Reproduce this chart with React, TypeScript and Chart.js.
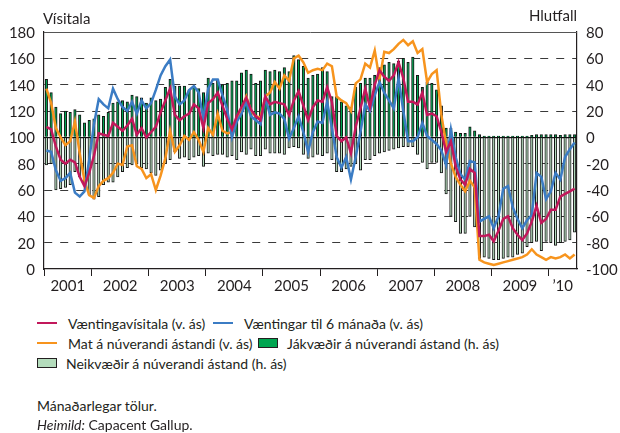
import React, { useEffect, useRef } from 'react';
import { Chart, registerables } from 'chart.js';

Chart.register(...registerables);

// Monthly categories: March 2001 – June 2010
const START_YEAR = 2001;
const START_MONTH = 3;
const MONTH_COUNT = 112;
const months: string[] = [];
for (let i = 0; i < MONTH_COUNT; i++) {
  const m = START_MONTH - 1 + i;
  const y = START_YEAR + Math.floor(m / 12);
  months.push(`${y}-${String((m % 12) + 1).padStart(2, '0')}`);
}

const yearLabels = ['2001', '2002', '2003', '2004', '2005', '2006', '2007', '2008', '2009', '\u201910'];
const yearLabelIndex = [5, 16, 28, 40, 52, 64, 76, 88, 100, 109];
const yearStartIndex = [0, 10, 22, 34, 46, 58, 70, 82, 94, 106];

// Væntingavísitala (left axis)
const vaentingavisitala = [
  108, 106, 93, 83, 80, 83, 81, 70, 63, 73,
  86, 103, 102, 101, 111, 108, 105, 109, 114, 102, 107, 100,
  104, 108, 119, 128, 137, 117, 113, 116, 118, 125, 122, 107,
  126, 129, 134, 124, 114, 106, 116, 123, 130, 121, 116, 113,
  131, 125, 127, 126, 125, 117, 128, 135, 124, 113, 123, 128,
  127, 138, 127, 101, 97, 100, 88, 108, 122, 137, 123, 140,
  151, 146, 143, 147, 157, 145, 127, 127, 125, 134, 117, 118,
  116, 104, 89, 97, 78, 68, 64, 76, 73, 25, 25, 26,
  21, 29, 38, 40, 31, 26, 22, 27, 36, 48, 35, 38,
  45, 45, 55, 57, 59, 61,
];

// Væntingar til 6 mánaða (left axis)
const vaentingar6 = [
  90, 89, 75, 67, 69, 73, 58, 55, 59, 83,
  110, 129, 125, 122, 137, 129, 123, 120, 127, 118, 128, 122,
  126, 136, 147, 154, 159, 131, 125, 128, 136, 139, 134, 114,
  137, 144, 144, 132, 121, 100, 112, 118, 127, 116, 113, 110,
  130, 117, 119, 118, 114, 99, 107, 116, 104, 89, 104, 112,
  111, 127, 107, 85, 77, 85, 68, 85, 104, 125, 120, 132,
  142, 134, 128, 122, 145, 120, 97, 97, 100, 111, 101, 98,
  95, 90, 79, 106, 85, 72, 68, 82, 81, 36, 38, 40,
  31, 40, 61, 63, 47, 38, 31, 37, 41, 73, 70, 53,
  59, 73, 68, 85, 91, 96,
];

// Mat á núverandi ástandi (left axis)
const matAstandi = [
  137, 126, 107, 100, 94, 97, 112, 88, 67, 56,
  54, 63, 67, 69, 73, 80, 79, 93, 94, 78, 76, 69,
  72, 60, 71, 84, 105, 89, 94, 101, 98, 104, 98, 89,
  107, 102, 118, 105, 103, 104, 114, 121, 131, 120, 116, 115,
  131, 134, 142, 137, 147, 143, 160, 162, 157, 149, 151, 152,
  151, 156, 154, 131, 128, 126, 120, 141, 144, 156, 153, 166,
  144, 165, 164, 167, 171, 174, 170, 173, 164, 167, 142, 148,
  151, 117, 95, 80, 70, 64, 59, 67, 62, 7, 5, 4,
  3, 4, 5, 6, 7, 8, 9, 11, 15, 11, 9, 7,
  9, 8, 9, 11, 8, 11,
];

// Jákvæðir á núverandi ástand (right axis)
const jakvaedir = [
  44, 34, 23, 18, 20, 19, 21, 17, 11, 13,
  14, 17, 16, 19, 26, 27, 28, 27, 32, 31, 30, 26,
  30, 28, 29, 38, 44, 39, 39, 39, 36, 38, 37, 34,
  45, 41, 44, 40, 41, 43, 43, 49, 51, 48, 41, 43,
  51, 50, 51, 50, 53, 50, 62, 59, 54, 45, 47, 48,
  53, 50, 31, 31, 27, 24, 23, 38, 41, 45, 45, 47,
  53, 55, 57, 56, 58, 60, 57, 61, 47, 38, 42, 41,
  36, 24, 7, 7, 4, 3, 3, 8, 5, 2, 1, 1,
  1, 1, 1, 1, 1, 1, 1, 1, 1.5, 2, 2, 2,
  2, 2, 1.5, 2, 2, 2,
];

// Neikvæðir á núverandi ástand (right axis)
const neikvaedir = [
  -21, -20, -40, -39, -38, -36, -26, -30, -36, -44,
  -47, -45, -36, -34, -34, -30, -26, -23, -21, -20, -23, -24,
  -27, -29, -25, -20, -17, -11, -16, -15, -17, -15, -14, -22,
  -12, -14, -13, -13, -15, -14, -17, -11, -13, -9, -14, -14,
  -9, -12, -12, -12, -13, -8, -7, -8, -13, -16, -15, -13,
  -14, -12, -17, -26, -26, -24, -22, -20, -25, -17, -17, -14,
  -12, -11, -10, -9, -8, -7, -7, -7, -13, -19, -24, -19,
  -19, -27, -43, -60, -64, -73, -73, -60, -68, -92, -91, -92,
  -93, -93, -92, -91, -91, -89, -88, -83, -80, -79, -86, -79,
  -80, -82, -80, -79, -78, -72,
];

const FONT = 'Lato, "Open Sans", sans-serif';
const TEXT = '#231f20';

const framePlugin = {
  id: 'topFrame',
  afterDatasetsDraw(chart: any) {
    const { ctx, chartArea } = chart;
    ctx.save();
    ctx.strokeStyle = '#555';
    ctx.lineWidth = 1;
    ctx.beginPath();
    ctx.moveTo(chartArea.left, chartArea.top + 0.5);
    ctx.lineTo(chartArea.right, chartArea.top + 0.5);
    ctx.stroke();
    ctx.restore();
  },
};

function ChartCanvas() {
  const ref = useRef<HTMLCanvasElement | null>(null);
  useEffect(() => {
    if (!ref.current) return;
    const chart = new Chart(ref.current, {
      type: 'bar',
      data: {
        labels: months,
        datasets: [
          {
            type: 'line',
            label: 'Væntingavísitala (v. ás)',
            data: vaentingavisitala,
            yAxisID: 'y',
            borderColor: '#c2185b',
            backgroundColor: '#c2185b',
            borderWidth: 2.5,
            pointRadius: 0,
            tension: 0,
            order: 1,
          },
          {
            type: 'line',
            label: 'Væntingar til 6 mánaða (v. ás)',
            data: vaentingar6,
            yAxisID: 'y',
            borderColor: '#3b7cc4',
            backgroundColor: '#3b7cc4',
            borderWidth: 2.5,
            pointRadius: 0,
            tension: 0,
            order: 1,
          },
          {
            type: 'line',
            label: 'Mat á núverandi ástandi (v. ás)',
            data: matAstandi,
            yAxisID: 'y',
            borderColor: '#f7941d',
            backgroundColor: '#f7941d',
            borderWidth: 2.5,
            pointRadius: 0,
            tension: 0,
            order: 1,
          },
          {
            type: 'bar',
            label: 'Jákvæðir á núverandi ástand (h. ás)',
            data: jakvaedir,
            yAxisID: 'y1',
            backgroundColor: '#00a651',
            borderColor: '#141414',
            borderWidth: 1,
            barThickness: 2.5,
            grouped: false,
            order: 2,
          } as any,
          {
            type: 'bar',
            label: 'Neikvæðir á núverandi ástand (h. ás)',
            data: neikvaedir,
            yAxisID: 'y1',
            backgroundColor: '#b4dcbc',
            borderColor: '#141414',
            borderWidth: 1,
            barThickness: 2.5,
            grouped: false,
            order: 2,
          } as any,
        ],
      },
      options: {
        animation: false,
        responsive: false,
        devicePixelRatio: 1,
        layout: { padding: { top: 32, left: 0, right: 0, bottom: 0 } },
        plugins: {
          legend: { display: false },
          tooltip: { enabled: false },
        },
        scales: {
          x: {
            type: 'category',
            offset: true,
            grid: {
              offset: true,
              drawOnChartArea: false,
              drawTicks: true,
              tickLength: 7,
              color: (ctx: any) =>
                ctx.index !== undefined && yearStartIndex.includes(ctx.index)
                  ? '#231f20'
                  : 'rgba(0,0,0,0)',
            },
            border: { display: true, color: '#231f20', width: 1.2 },
            ticks: {
              autoSkip: false,
              maxRotation: 0,
              minRotation: 0,
              padding: 1,
              labelOffset: -2.38,
              color: TEXT,
              font: { family: FONT, size: 15 },
              callback: (_v: any, idx: number) => {
                const k = yearLabelIndex.indexOf(idx);
                return k >= 0 ? yearLabels[k] : '';
              },
            },
            afterFit: (scale: any) => {
              scale.height = 31;
            },
          },
          y: {
            position: 'left',
            min: 0,
            max: 180,
            ticks: {
              stepSize: 20,
              padding: 9,
              labelOffset: 1,
              color: TEXT,
              font: { family: FONT, size: 15 },
            },
            grid: {
              drawTicks: false,
              color: (ctx: any) => {
                const v = ctx.tick ? ctx.tick.value : null;
                return v === 0 || v === 100 || v === 180 ? 'rgba(0,0,0,0)' : '#3a3a3a';
              },
              lineWidth: 1,
            },
            border: { display: true, color: '#231f20', width: 1.2, dash: [8, 8] },
            afterFit: (scale: any) => {
              scale.width = 44;
            },
          },
          y1: {
            position: 'right',
            min: -100,
            max: 80,
            ticks: {
              stepSize: 20,
              padding: 9,
              labelOffset: 1,
              color: TEXT,
              font: { family: FONT, size: 15 },
            },
            grid: {
              drawTicks: false,
              drawOnChartArea: true,
              color: (ctx: any) =>
                ctx.tick && ctx.tick.value === 0 ? '#111' : 'rgba(0,0,0,0)',
              lineWidth: 1.3,
            },
            border: { display: true, color: '#231f20', width: 1.2 },
            afterFit: (scale: any) => {
              scale.width = 43;
            },
          },
        },
      } as any,
      plugins: [framePlugin],
    });
    return () => chart.destroy();
  }, []);
  return <canvas ref={ref} width={620} height={300} style={{ display: 'block' }} />;
}

const lineMark = (color: string) => (
  <span style={{ display: 'inline-block', width: 20, height: 2.5, background: color, marginRight: 11 }} />
);
const boxMark = (color: string) => (
  <span
    style={{
      display: 'inline-block',
      width: 18,
      height: 8,
      background: color,
      border: '1px solid #231f20',
      marginRight: 9,
    }}
  />
);

const rowStyle = (top: number, left: number): React.CSSProperties => ({
  position: 'absolute',
  top: top - 10,
  left,
  height: 20,
  display: 'flex',
  alignItems: 'center',
  whiteSpace: 'nowrap',
  fontSize: 14,
  color: TEXT,
});

export default function App() {
  return (
    <div
      style={{
        position: 'fixed',
        left: 0,
        top: 0,
        width: 620,
        height: 433,
        background: '#fff',
        fontFamily: FONT,
        color: TEXT,
      }}
    >
      <div style={{ position: 'absolute', left: 0, top: 0, width: 620, height: 300 }}>
        <ChartCanvas />
      </div>
      <div style={{ position: 'absolute', left: 43, top: 11, fontSize: 15, lineHeight: '15px' }}>Vísitala</div>
      <div style={{ position: 'absolute', right: 43, top: 8, fontSize: 15, lineHeight: '15px' }}>Hlutfall</div>

      <div style={rowStyle(323, 37)}>
        {lineMark('#c2185b')}
        <span>Væntingavísitala (v. ás)</span>
      </div>
      <div style={rowStyle(323, 213)}>
        {lineMark('#3b7cc4')}
        <span>Væntingar til 6 mánaða (v. ás)</span>
      </div>
      <div style={rowStyle(343, 37)}>
        {lineMark('#f7941d')}
        <span>Mat á núverandi ástandi (v. ás)</span>
      </div>
      <div style={rowStyle(343, 258)}>
        {boxMark('#00a651')}
        <span>Jákvæðir á núverandi ástand (h. ás)</span>
      </div>
      <div style={rowStyle(363, 37)}>
        {boxMark('#b4dcbc')}
        <span>Neikvæðir á núverandi ástand (h. ás)</span>
      </div>

      <div style={rowStyle(405, 37)}>
        <span>Mánaðarlegar tölur.</span>
      </div>
      <div style={rowStyle(424, 37)}>
        <span>
          <i>Heimild:</i> Capacent Gallup.
        </span>
      </div>
    </div>
  );
}
